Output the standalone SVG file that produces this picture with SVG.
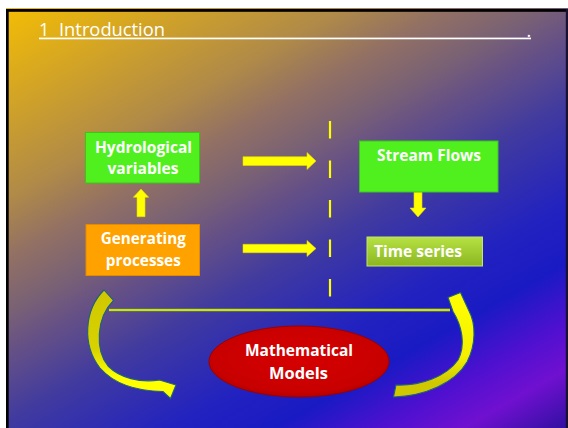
<svg xmlns="http://www.w3.org/2000/svg" width="568" height="428" viewBox="0 0 568 428">
  <defs>
    <!-- slide background: warm yellow top-left fading through mauve to blue and violet -->
    <linearGradient id="bg" gradientUnits="userSpaceOnUse" x1="0" y1="0" x2="322" y2="568">
      <stop offset="0" stop-color="#f8c000"/>
      <stop offset="0.27" stop-color="#b08a48"/>
      <stop offset="0.35" stop-color="#927064"/>
      <stop offset="0.42" stop-color="#7a6274"/>
      <stop offset="0.47" stop-color="#685284"/>
      <stop offset="0.57" stop-color="#403aa0"/>
      <stop offset="0.70" stop-color="#2222c0"/>
      <stop offset="0.78" stop-color="#1a1ac4"/>
      <stop offset="0.86" stop-color="#5010d0"/>
      <stop offset="0.92" stop-color="#7010d0"/>
      <stop offset="1" stop-color="#3010a0"/>
    </linearGradient>
    <linearGradient id="olive" x1="0" y1="0" x2="0" y2="1">
      <stop offset="0" stop-color="#b6e244"/>
      <stop offset="1" stop-color="#8cb620"/>
    </linearGradient>
    <radialGradient id="red" cx="0.5" cy="0.45" r="0.6">
      <stop offset="0" stop-color="#d60000"/>
      <stop offset="0.8" stop-color="#c80000"/>
      <stop offset="1" stop-color="#a80000"/>
    </radialGradient>
    <linearGradient id="curlL" gradientUnits="userSpaceOnUse" x1="0" y1="290" x2="0" y2="398">
      <stop offset="0" stop-color="#cfc800"/>
      <stop offset="0.55" stop-color="#d8d200"/>
      <stop offset="0.8" stop-color="#ffff00"/>
      <stop offset="1" stop-color="#ffff00"/>
    </linearGradient>
    <linearGradient id="curlR" gradientUnits="userSpaceOnUse" x1="0" y1="294" x2="0" y2="398">
      <stop offset="0" stop-color="#ffff00"/>
      <stop offset="0.6" stop-color="#f4f000"/>
      <stop offset="0.85" stop-color="#cfc800"/>
      <stop offset="1" stop-color="#cfc800"/>
    </linearGradient>
    <style>
      .lbl { font-family: "Open Sans", "Liberation Sans", sans-serif; font-weight: 700; font-size: 16px; fill: #ffffff; }
      .title { font-family: "Open Sans", "Liberation Sans", sans-serif; font-size: 18px; fill: #ffffff; }
      .green { fill: #50f01e; stroke: #3cc41a; stroke-width: 1; }
      .block { fill: #ffff00; stroke: #e4d800; stroke-width: 0.6; }
      .curl { stroke: #22607c; stroke-width: 1.1; stroke-linejoin: miter; }
    </style>
  </defs>

  <!-- page and slide frame -->
  <rect x="0" y="0" width="568" height="428" fill="#ffffff"/>
  <rect x="6" y="8" width="562" height="420" fill="url(#bg)"/>
  <rect x="6" y="9" width="562" height="2.8" fill="#000000"/>
  <rect x="6" y="9" width="2.7" height="419" fill="#000000"/>
  <rect x="565.8" y="9" width="2.2" height="419" fill="#1a1030"/>

  <!-- heading -->
  <g id="heading">
    <text class="title" y="36"><tspan x="39">1</tspan><tspan x="59" textLength="106" lengthAdjust="spacingAndGlyphs">Introduction</tspan></text>
    <text class="title" x="526.4" y="37">.</text>
    <rect x="39" y="37.6" width="492" height="1.7" fill="#ffffff"/>
  </g>

  <!-- connectors -->
  <g id="connectors">
    <polygon class="block" points="243,156.7 307,156.7 307,152.5 316,161 307,169.5 307,165.5 243,165.5"/>
    <polygon class="block" points="243,244.3 307,244.3 307,240.5 316,248.5 307,256.5 307,252.7 243,252.7"/>
    <polygon class="block" points="137,216.7 137,197.3 133.3,197.3 141,189 148.7,197.3 145,197.3 145,216.7"/>
    <polygon class="block" points="414,189 422,189 422,208 426,208 418,217 410,208 414,208"/>
    <line x1="330" y1="121" x2="330" y2="297" stroke="#ffff00" stroke-width="2.2" stroke-dasharray="17.5 22"/>
    <line x1="109" y1="310" x2="450" y2="310" stroke="#557a5a" stroke-width="3.6"/>
    <line x1="109" y1="310" x2="450" y2="310" stroke="#ffff00" stroke-width="1.7"/>
    <path class="curl" fill="url(#curlL)" d="M104,290 C84,310 82,345 100,368 C115,385 138,391 163,391.5 L170.5,398.5 L176,385 L159.5,380 C140,383 120,378 108,366 C95,350 96,318 113.5,300.5 Z"/>
    <path class="curl" fill="url(#curlR)" d="M393.5,397 C425,396 455,383 467,362 C476,345 476,324 469,311 L460.5,292.5 L448,297.5 L453,311.5 C462,326 466,345 458,360 C446,377 420,386 396,385 Z"/>
  </g>

  <g id="hydrological-variables">
    <rect class="green" x="85.5" y="132.5" width="114" height="50.5"/>
    <text class="lbl" x="143.5" y="153.3" text-anchor="middle" textLength="97" lengthAdjust="spacingAndGlyphs">Hydrological</text>
    <text class="lbl" x="143" y="174.3" text-anchor="middle" textLength="71" lengthAdjust="spacingAndGlyphs">variables</text>
  </g>

  <g id="generating-processes">
    <rect x="86" y="224.5" width="113.5" height="51" fill="#ffa200" stroke="#e48a00" stroke-width="1"/>
    <text class="lbl" x="143.3" y="244.3" text-anchor="middle" textLength="85" lengthAdjust="spacingAndGlyphs">Generating</text>
    <text class="lbl" x="143.3" y="266.3" text-anchor="middle" textLength="75" lengthAdjust="spacingAndGlyphs">processes</text>
  </g>

  <g id="stream-flows">
    <rect class="green" x="359.5" y="141" width="138.5" height="51"/>
    <text class="lbl" x="377" y="161" textLength="104" lengthAdjust="spacingAndGlyphs">Stream Flows</text>
  </g>

  <g id="time-series">
    <rect x="367" y="237" width="115.5" height="29" fill="url(#olive)" stroke="#c4e46a" stroke-width="1"/>
    <text class="lbl" x="374" y="257.3" textLength="88" lengthAdjust="spacingAndGlyphs">Time series</text>
  </g>

  <g id="mathematical-models">
    <ellipse cx="299" cy="361.5" rx="90" ry="35.5" fill="url(#red)" stroke="#9a0000" stroke-width="1"/>
    <text class="lbl" x="299" y="356" text-anchor="middle" textLength="108" lengthAdjust="spacingAndGlyphs">Mathematical</text>
    <text class="lbl" x="298.5" y="379" text-anchor="middle" textLength="59" lengthAdjust="spacingAndGlyphs">Models</text>
  </g>
</svg>
